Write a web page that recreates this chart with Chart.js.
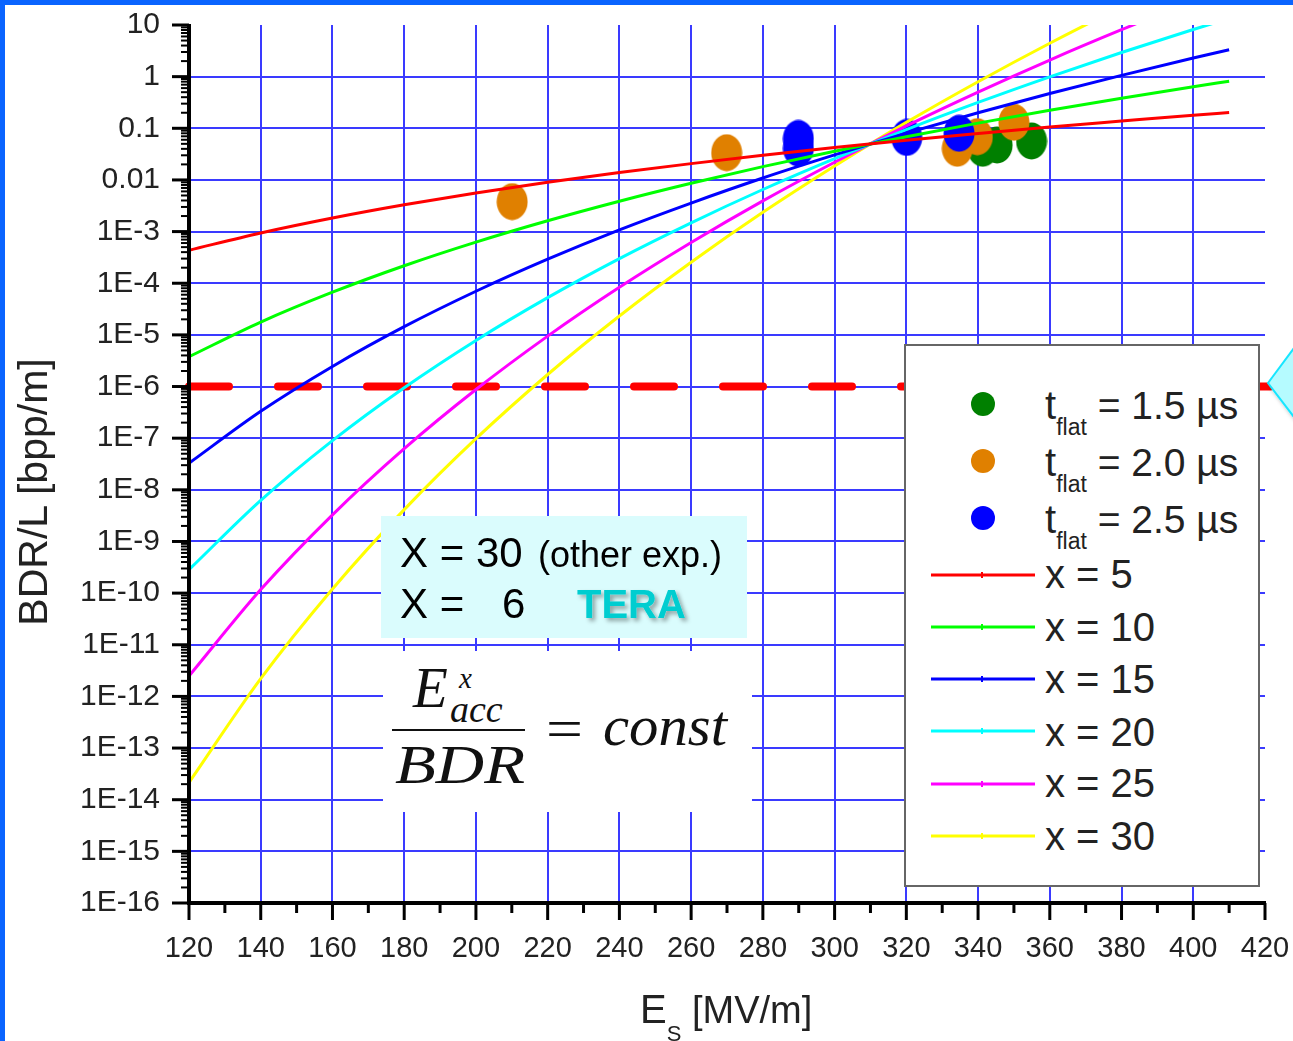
<!DOCTYPE html>
<html>
<head>
<meta charset="utf-8">
<title>BDR/L vs Es</title>
<script src="https://cdn.jsdelivr.net/npm/chart.js@4.4.1/dist/chart.umd.min.js"></script>
<style>
  html, body { margin: 0; padding: 0; background: #fff; }
  #wrap { position: relative; width: 1293px; height: 1041px; overflow: hidden; }
  #chart { position: absolute; left: 0; top: 0; }
  #overlay { position: absolute; left: 0; top: 0; pointer-events: none; }
</style>
</head>
<body>
<div id="wrap">
  <canvas id="chart" width="1293" height="1041"></canvas>
  <svg id="overlay" width="1293" height="1041" xmlns="http://www.w3.org/2000/svg"
       font-family="'Liberation Sans', Arial, sans-serif" fill="#222">
    <defs>
      <filter id="shadow" x="-30%" y="-30%" width="170%" height="170%">
        <feDropShadow dx="3" dy="3" stdDeviation="2" flood-color="#000" flood-opacity="0.35"/>
      </filter>
    </defs>
    <!-- slide frame -->
    <rect x="0" y="0" width="1293" height="5" fill="#0a64ff"/>
    <rect x="0" y="0" width="5" height="1041" fill="#0a64ff"/>
    <polygon points="1268,383 1297,344 1297,421" fill="#b5fbff" stroke="#18e6ff" stroke-width="2" filter="url(#shadow)"/>

    <!-- axis titles -->
    <text transform="translate(47,492) rotate(-90)" text-anchor="middle" font-size="41">BDR/L [bpp/m]</text>
    <text x="640" y="1023" font-size="40">E<tspan font-size="22" dy="18">S</tspan><tspan font-size="38" dy="-18"> [MV/m]</tspan></text>

    <!-- note box -->
    <rect x="381" y="516" width="366" height="122" fill="#dafcfd"/>
    <text x="400" y="567" font-size="42" fill="#000">X = 30</text>
    <text x="538" y="567" font-size="36" fill="#000">(other exp.)</text>
    <text x="400" y="618" font-size="42" fill="#000">X =</text>
    <text x="502" y="618" font-size="42" fill="#000">6</text>
    <text x="577" y="618" font-size="40" font-weight="bold" fill="#00cdd0" filter="url(#shadow)">TERA</text>

    <!-- scaling law -->
    <rect x="383" y="651" width="369" height="161" fill="#fff"/>
    <g font-family="'Liberation Serif', 'Times New Roman', serif" font-style="italic" fill="#111">
      <text x="413" y="707" font-size="57">E</text>
      <text x="459" y="688" font-size="29">x</text>
      <text x="450" y="722" font-size="38">acc</text>
      <line x1="392" y1="730" x2="525" y2="730" stroke="#111" stroke-width="1.8"/>
      <text x="395" y="783" font-size="54" textLength="130" lengthAdjust="spacingAndGlyphs">BDR</text>
      <text x="546" y="748" font-size="56" font-style="normal" textLength="37" lengthAdjust="spacingAndGlyphs">=</text>
      <text x="603" y="745" font-size="58" textLength="124" lengthAdjust="spacingAndGlyphs">const</text>
    </g>

    <!-- legend -->
    <rect x="905" y="345" width="354" height="541" fill="#fff" stroke="#666" stroke-width="2"/>
    <circle cx="983" cy="404" r="12" fill="#008000"/>
    <circle cx="983" cy="461" r="12" fill="#e08000"/>
    <circle cx="983" cy="518" r="12" fill="#0000ff"/>
    <text x="1045" y="419" font-size="40">t<tspan font-size="23" dy="16">flat</tspan><tspan dy="-16" font-size="39"> = 1.5 µs</tspan></text>
    <text x="1045" y="476" font-size="40">t<tspan font-size="23" dy="16">flat</tspan><tspan dy="-16" font-size="39"> = 2.0 µs</tspan></text>
    <text x="1045" y="533" font-size="40">t<tspan font-size="23" dy="16">flat</tspan><tspan dy="-16" font-size="39"> = 2.5 µs</tspan></text>
    <g stroke-width="3">
      <line x1="931" y1="575" x2="1035" y2="575" stroke="#ff0000"/>
      <line x1="931" y1="627" x2="1035" y2="627" stroke="#00ff00"/>
      <line x1="931" y1="679" x2="1035" y2="679" stroke="#0000ff"/>
      <line x1="931" y1="731" x2="1035" y2="731" stroke="#00ffff"/>
      <line x1="931" y1="784" x2="1035" y2="784" stroke="#ff00ff"/>
      <line x1="931" y1="836" x2="1035" y2="836" stroke="#ffff00"/>
    </g>
    <g stroke-width="2">
      <line x1="982" y1="572" x2="982" y2="578" stroke="#ff0000"/>
      <line x1="982" y1="624" x2="982" y2="630" stroke="#00ff00"/>
      <line x1="982" y1="676" x2="982" y2="682" stroke="#0000ff"/>
      <line x1="982" y1="728" x2="982" y2="734" stroke="#00ffff"/>
      <line x1="982" y1="781" x2="982" y2="787" stroke="#ff00ff"/>
      <line x1="982" y1="833" x2="982" y2="839" stroke="#ffff00"/>
    </g>
    <text x="1045" y="588" font-size="40">x = 5</text>
    <text x="1045" y="641" font-size="40">x = 10</text>
    <text x="1045" y="693" font-size="40">x = 15</text>
    <text x="1045" y="746" font-size="40">x = 20</text>
    <text x="1045" y="797" font-size="40">x = 25</text>
    <text x="1045" y="850" font-size="40">x = 30</text>
  </svg>
</div>
<script>
// ─── Data ────────────────────────────────────────────────────────────
const eField = [120, 140, 160, 180, 200, 220, 240, 260, 280, 300, 320, 340, 360, 380, 400, 410];
const bdrX5  = [4.35e-4, 9.4e-4, 1.83e-3, 3.3e-3, 5.6e-3, 9.0e-3, 1.39e-2, 2.07e-2, 3.01e-2, 4.24e-2, 5.86e-2, 7.93e-2, 0.106, 0.138, 0.179, 0.202];
const bdrX10 = [3.78e-6, 1.77e-5, 6.7e-5, 2.18e-4, 6.25e-4, 1.62e-3, 3.87e-3, 8.61e-3, 1.81e-2, 3.6e-2, 6.87e-2, 0.126, 0.223, 0.383, 0.64, 0.818];
const bdrX15 = [3.28e-8, 3.32e-7, 2.45e-6, 1.44e-5, 6.99e-5, 2.92e-4, 1.08e-3, 3.57e-3, 1.09e-2, 3.05e-2, 8.05e-2, 0.2, 0.471, 1.06, 2.29, 3.31];
const bdrX20 = [2.85e-10, 6.24e-9, 8.97e-8, 9.48e-7, 7.82e-6, 5.26e-5, 3.0e-4, 1.48e-3, 6.53e-3, 2.59e-2, 9.44e-2, 0.317, 0.993, 2.93, 8.18, 13.4];
const bdrX25 = [2.48e-12, 1.17e-10, 3.28e-9, 6.26e-8, 8.74e-7, 9.47e-6, 8.35e-5, 6.15e-4, 3.93e-3, 2.2e-2, 0.111, 0.503, 2.1, 8.11, 29.3, 54.2];
const bdrX30 = [2.15e-14, 2.2e-12, 1.2e-10, 4.13e-9, 9.77e-8, 1.71e-6, 2.32e-5, 2.55e-4, 2.36e-3, 1.86e-2, 0.13, 0.798, 4.43, 22.4, 105, 219];

// measured points (t_flat)
const greenE   = [341.3, 345.3, 354.9];
const greenBdr = [0.041, 0.0475, 0.0568];
const orangeE   = [210.1, 269.9, 334.2, 339.8, 350.0];
const orangeBdr = [0.0038, 0.0337, 0.041, 0.0687, 0.131];
const blueE   = [289.9, 289.9, 320.1, 334.7];
const blueBdr = [0.0635, 0.0412, 0.0664, 0.080];

// 1E-6 target line
const limitE   = [120, 421.5];
const limitBdr = [1e-6, 1e-6];

// ─── Axis ticks ──────────────────────────────────────────────────────
const xTickValues = [120, 140, 160, 180, 200, 220, 240, 260, 280, 300, 320, 340, 360, 380, 400, 420];
const yTickValues = [1e-16, 1e-15, 1e-14, 1e-13, 1e-12, 1e-11, 1e-10, 1e-9, 1e-8, 1e-7, 1e-6, 1e-5, 1e-4, 1e-3, 0.01, 0.1, 1, 10];
const yTickLabels = ['1E-16', '1E-15', '1E-14', '1E-13', '1E-12', '1E-11', '1E-10', '1E-9', '1E-8', '1E-7',
                     '1E-6', '1E-5', '1E-4', '1E-3', '0.01', '0.1', '1', '10'];

const toPoints = (xs, ys) => xs.map((x, i) => ({ x: x, y: ys[i] }));

// ellipse-shaped marker, as in the original plot
function ellipseMarker(color) {
    const c = document.createElement('canvas');
    c.width = 32;
    c.height = 38;
    const g = c.getContext('2d');
    g.fillStyle = color;
    g.beginPath();
    g.ellipse(16, 19, 15.5, 18.5, 0, 0, Math.PI * 2);
    g.fill();
    return c;
}

function curve(label, ys, color) {
    return {
        label: label,
        data: toPoints(eField, ys),
        borderColor: color,
        borderWidth: 3,
        pointRadius: 0,
        cubicInterpolationMode: 'monotone',
        order: 1
    };
}

function dots(label, xs, ys, color, order) {
    return {
        label: label,
        data: toPoints(xs, ys),
        showLine: false,
        pointStyle: ellipseMarker(color),
        pointRadius: 16,
        order: order
    };
}

// ─── Axis lines and ticks, drawn over the plot ───────────────────────
const axisDecor = {
    id: 'axisDecor',
    afterDraw(chart) {
        const { ctx, chartArea: a, scales: { x, y } } = chart;
        ctx.save();
        ctx.strokeStyle = '#000';
        ctx.lineWidth = 4;
        ctx.beginPath();
        ctx.moveTo(a.left, a.top - 1);
        ctx.lineTo(a.left, a.bottom + 2);
        ctx.moveTo(a.left - 2, a.bottom);
        ctx.lineTo(a.right + 1, a.bottom);
        ctx.stroke();

        // y majors + log minors
        ctx.lineWidth = 3;
        yTickValues.forEach(v => {
            const py = y.getPixelForValue(v);
            ctx.beginPath(); ctx.moveTo(a.left - 17, py); ctx.lineTo(a.left, py); ctx.stroke();
        });
        ctx.lineWidth = 2;
        for (let k = 0; k < yTickValues.length - 1; k++) {
            for (let m = 2; m <= 9; m++) {
                const py = y.getPixelForValue(yTickValues[k] * m);
                ctx.beginPath(); ctx.moveTo(a.left - 8, py); ctx.lineTo(a.left, py); ctx.stroke();
            }
        }

        // x majors + minors
        ctx.lineWidth = 3;
        xTickValues.forEach((v, i) => {
            const px = x.getPixelForValue(v);
            ctx.beginPath(); ctx.moveTo(px, a.bottom); ctx.lineTo(px, a.bottom + 17); ctx.stroke();
            if (i < xTickValues.length - 1) {
                const pm = x.getPixelForValue((v + xTickValues[i + 1]) / 2);
                ctx.beginPath(); ctx.moveTo(pm, a.bottom); ctx.lineTo(pm, a.bottom + 10); ctx.stroke();
            }
        });
        ctx.restore();
    }
};

Chart.defaults.font.family = "'Liberation Sans', Arial, sans-serif";
Chart.defaults.color = '#222';

new Chart(document.getElementById('chart'), {
    type: 'line',
    data: {
        datasets: [
            curve('x = 5', bdrX5, '#ff0000'),
            curve('x = 10', bdrX10, '#00ff00'),
            curve('x = 15', bdrX15, '#0000ff'),
            curve('x = 20', bdrX20, '#00ffff'),
            curve('x = 25', bdrX25, '#ff00ff'),
            curve('x = 30', bdrX30, '#ffff00'),
            {
                label: '1E-6',
                data: toPoints(limitE, limitBdr),
                borderColor: '#ff0000',
                borderWidth: 8,
                borderDash: [40, 49],
                borderCapStyle: 'round',
                pointRadius: 0,
                clip: { left: 6, top: 0, right: 10, bottom: 0 },
                order: 2
            },
            dots('t_flat = 2.5 us', blueE, blueBdr, '#0000ff', 3),
            dots('t_flat = 2.0 us', orangeE, orangeBdr, '#e08000', 4),
            dots('t_flat = 1.5 us', greenE, greenBdr, '#007f00', 5)
        ]
    },
    options: {
        responsive: false,
        animation: false,
        layout: { autoPadding: false, padding: { top: 25, right: 28, left: 0, bottom: 0 } },
        plugins: { legend: { display: false }, tooltip: { enabled: false } },
        scales: {
            x: {
                type: 'linear',
                min: 120,
                max: 420,
                afterBuildTicks: s => { s.ticks = xTickValues.map(v => ({ value: v })); },
                afterFit: s => { s.height = 138; s.paddingLeft = 0; s.paddingRight = 0; },
                ticks: { autoSkip: false, maxRotation: 0, padding: 29, font: { size: 29 }, color: '#222' },
                grid: {
                    drawTicks: false,
                    lineWidth: 2,
                    color: c => (c.tick && (c.tick.value === 120 || c.tick.value === 420)) ? 'rgba(0,0,0,0)' : '#3a3aff'
                },
                border: { display: false }
            },
            y: {
                type: 'logarithmic',
                min: 1e-16,
                max: 10,
                afterBuildTicks: s => { s.ticks = yTickValues.map(v => ({ value: v })); },
                afterFit: s => { s.width = 189; s.paddingTop = 0; s.paddingBottom = 0; },
                ticks: {
                    autoSkip: false,
                    padding: 29,
                    font: { size: 30 },
                    color: '#222',
                    callback: (v, i) => yTickLabels[i]
                },
                grid: {
                    drawTicks: false,
                    lineWidth: 2,
                    color: c => (c.tick && (c.tick.value === 10 || c.tick.value === 1e-16)) ? 'rgba(0,0,0,0)' : '#3a3aff'
                },
                border: { display: false }
            }
        }
    },
    plugins: [axisDecor]
});
</script>
</body>
</html>
